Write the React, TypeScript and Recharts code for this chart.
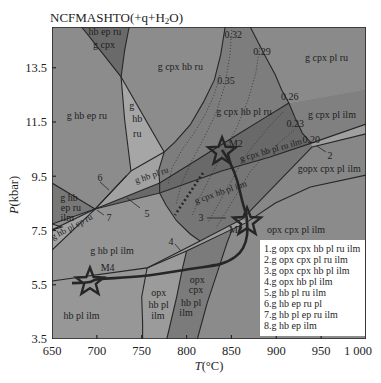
import React from "react";
import { ScatterChart, Scatter, XAxis, YAxis } from "recharts";

type Pt = [number, number]; // [T °C, P kbar]
type Note = { t: number; p: number; text: string };

const X_TICKS = [650, 700, 750, 800, 850, 900, 950, 1000];
const Y_TICKS = [3.5, 5.5, 7.5, 9.5, 11.5, 13.5];

// reaction lines
const lineA: Pt[] = [[683, 15], [703.5, 14.15], [727, 13.16]];
const lineB: Pt[] = [[736, 15], [731, 14.15], [727, 13.16]];
const lineC: Pt[] = [[727, 13.16], [731, 11.57], [738, 9.69]];
const lineD: Pt[] = [[727, 13.16], [775, 10.39]];
const lineE: Pt[] = [[738, 9.69], [775, 10.39]];
const cpxIn: Pt[] = [
  [843, 15], [838, 13.97], [831, 13.05], [819, 12.24], [804, 11.39], [787, 10.76],
  [775, 10.39], [769, 9.73], [770, 9.25], [770, 8.88], [777, 8.44], [789, 7.85],
  [804, 7.37], [815, 7.11],
];
const plIn: Pt[] = [[871, 15], [887, 13.97], [899, 13.23], [906, 12.68], [914, 12.2]];
const ilmIn: Pt[] = [[698, 8.29], [770, 9.25], [815, 10.17], [856, 11.02], [887, 11.65], [914, 12.2]];
const ruOut: Pt[] = [[698, 8.29], [770, 8.88], [839, 9.69], [893, 10.21], [939, 10.72]];
const hbIn: Pt[] = [[914, 12.2], [921, 11.65], [929, 11.09], [939, 10.72]];
const band2Top: Pt[] = [[939, 10.72], [1000, 11.42]];
const band2Bot: Pt[] = [[940, 10.58], [1000, 11.06]];
const hbOut: Pt[] = [[940, 10.58], [862, 7.92]];
const opxIn: Pt[] = [[756, 6.12], [800, 6.74], [851, 7.55], [866, 7.78], [899, 8.51], [938, 9.1], [1000, 9.54]];
const band34Top: Pt[] = [[756, 6.12], [815, 7.11], [862, 7.92]];
const steep1: Pt[] = [[751, 3.5], [751, 4.09], [750, 5.05], [756, 6.12]];
const steep2: Pt[] = [[778, 3.5], [789, 5.05], [795, 6.04], [800, 6.74]];
const steep3: Pt[] = [[812, 3.5], [823, 4.83], [834, 5.93], [845, 7.04], [851, 7.55]];
const gOut: Pt[] = [[650, 5.64], [756, 6.12]];
const kQ2: Pt[] = [[698, 8.29], [738, 9.69]];
const kSliver: Pt[] = [[698, 8.29], [733, 9.52]];
const kLeft1: Pt[] = [[650, 9.25], [698, 8.29]];
const kLeft2: Pt[] = [[650, 7.74], [698, 8.29]];
const kLeft3: Pt[] = [[650, 7.52], [698, 8.29]];
const kLeft4: Pt[] = [[650, 6.78], [698, 8.29]];
const tri8: Pt[] = [[650, 7.74], [661, 7.63], [650, 7.52]];

// fields
const gHbEpRu: Pt[] = [[650, 15], [683, 15], [703.5, 14.15], [727, 13.16], [731, 11.57], [738, 9.69], [698, 8.29], [650, 9.25]];
const hbEpRuGCpx: Pt[] = [[683, 15], [736, 15], [731, 14.15], [727, 13.16], [703.5, 14.15]];
const gHbRu: Pt[] = [[727, 13.16], [775, 10.39], [738, 9.69], [731, 11.57]];
const gCpxHbRu: Pt[] = [[736, 15], [843, 15], [838, 13.97], [831, 13.05], [819, 12.24], [804, 11.39], [787, 10.76], [775, 10.39], [727, 13.16], [731, 14.15]];
const gCpxHbPlRu: Pt[] = [
  [843, 15], [871, 15], [887, 13.97], [899, 13.23], [906, 12.68], [914, 12.2], [887, 11.65],
  [856, 11.02], [815, 10.17], [770, 9.25], [769, 9.73], [775, 10.39], [787, 10.76],
  [804, 11.39], [819, 12.24], [831, 13.05], [838, 13.97],
];
const gCpxPlRu: Pt[] = [[871, 15], [1000, 15], [1000, 12.71], [914, 12.2], [906, 12.68], [899, 13.23], [887, 13.97]];
const gCpxPlIlm: Pt[] = [[914, 12.2], [1000, 12.71], [1000, 11.42], [939, 10.72], [929, 11.09], [921, 11.65]];
const ruIlmBand: Pt[] = [
  [698, 8.29], [770, 9.25], [815, 10.17], [856, 11.02], [887, 11.65], [914, 12.2], [921, 11.65],
  [929, 11.09], [939, 10.72], [893, 10.21], [839, 9.69], [770, 8.88],
];
const gHbPlRu: Pt[] = [[698, 8.29], [738, 9.69], [775, 10.39], [769, 9.73], [770, 9.25]];
const band2: Pt[] = [[939, 10.72], [1000, 11.42], [1000, 11.06], [940, 10.58]];
const gOpxCpxPlIlm: Pt[] = [[940, 10.58], [1000, 11.06], [1000, 9.54], [938, 9.1], [899, 8.51], [866, 7.78], [862, 7.92]];
const gCpxHbPlIlm: Pt[] = [
  [770, 8.88], [839, 9.69], [893, 10.21], [939, 10.72], [940, 10.58], [862, 7.92], [815, 7.11],
  [804, 7.37], [789, 7.85], [777, 8.44],
];
const band34: Pt[] = [[756, 6.12], [815, 7.11], [862, 7.92], [866, 7.78], [851, 7.55], [800, 6.74]];
const gHbPlIlm: Pt[] = [[650, 6.78], [698, 8.29], [770, 8.88], [777, 8.44], [789, 7.85], [804, 7.37], [815, 7.11], [756, 6.12], [650, 5.64]];
const hbPlIlm: Pt[] = [[650, 5.64], [756, 6.12], [750, 5.05], [751, 4.09], [751, 3.5], [650, 3.5]];
const opxHbPlIlm: Pt[] = [[756, 6.12], [800, 6.74], [795, 6.04], [789, 5.05], [778, 3.5], [751, 3.5], [751, 4.09], [750, 5.05]];
const opxCpxHbPlIlm: Pt[] = [[800, 6.74], [851, 7.55], [845, 7.04], [834, 5.93], [823, 4.83], [812, 3.5], [778, 3.5], [789, 5.05], [795, 6.04]];
const opxCpxPlIlm: Pt[] = [[851, 7.55], [866, 7.78], [899, 8.51], [938, 9.1], [1000, 9.54], [1000, 3.5], [812, 3.5], [823, 4.83], [834, 5.93], [845, 7.04]];
const gHbEpRuIlm: Pt[] = [[650, 9.25], [698, 8.29], [650, 7.74]];
const gHbPlEpRuIlm: Pt[] = [[650, 7.74], [698, 8.29], [650, 7.52]];
const gHbPlEpRu: Pt[] = [[650, 7.52], [698, 8.29], [650, 6.78]];

// isopleths
const iso35: Pt[] = [[837.3, 13.23], [830.6, 12.49], [820.5, 11.76], [808.3, 11.09], [794.9, 10.47], [783.8, 9.8], [779.3, 9.18]];
const iso32: Pt[] = [[850.6, 15], [848.4, 13.97], [842.8, 12.86], [832.8, 11.83], [819.4, 10.91], [805, 10.02], [793.8, 9.18], [788.2, 8.44]];
const iso29: Pt[] = [[881.8, 14.34], [877.4, 13.34], [868.5, 12.31], [856.2, 11.31], [841.7, 10.39], [827.2, 9.54], [815, 8.73], [806, 8.03]];
const iso26: Pt[] = [[907.5, 11.87], [890.8, 11.28], [873, 10.58], [859.6, 9.91], [847.3, 9.18], [835, 8.44], [823.9, 7.81]];
const iso23: Pt[] = [[919.8, 11.2], [904.1, 10.76], [887.4, 10.28], [870.7, 9.66], [857.3, 8.92], [844, 8.18], [832.8, 7.59]];
const heavyDots: Pt[] = [[818.3, 9.62], [787.1, 8.07]];

// P-T path and stations
const ptPath: Pt[] = [
  [839.5, 10.47], [848.4, 9.99], [856.2, 9.36], [861.8, 8.62], [866.2, 8.11], [867.4, 7.81],
  [867.4, 7.33], [862.9, 6.85], [854, 6.52], [837.3, 6.26], [803.8, 6.08], [751.4, 5.82],
  [703.5, 5.71], [692.3, 5.6], [672.3, 5.56],
];
const stations: Pt[] = [[839.5, 10.4], [867.4, 7.81], [692.3, 5.6]];

const pointers: Pt[][] = [
  [[703.5, 9.29], [713.5, 8.99]],
  [[700.1, 8.25], [707.9, 8.07]],
  [[733.6, 8.7], [748.1, 8.33]],
  [[787.1, 7.0], [793.8, 6.74]],
  [[822.8, 7.96], [844, 7.96]],
  [[945.4, 10.61], [955.4, 10.39]],
];

const fieldNotes: Note[] = [
  { t: 709, p: 14.82, text: "hb ep ru" },
  { t: 708, p: 14.37, text: "g cpx" },
  { t: 689, p: 11.72, text: "g hb ep ru" },
  { t: 739, p: 12.09, text: "g" },
  { t: 745, p: 11.61, text: "hb" },
  { t: 745, p: 11.09, text: "ru" },
  { t: 793, p: 13.53, text: "g cpx hb ru" },
  { t: 956, p: 13.86, text: "g cpx pl ru" },
  { t: 962, p: 11.76, text: "g cpx pl ilm" },
  { t: 959, p: 9.8, text: "gopx cpx pl ilm" },
  { t: 922, p: 7.52, text: "opx cpx pl ilm" },
  { t: 864, p: 11.87, text: "g cpx hb pl ru" },
  { t: 669, p: 8.7, text: "g hb" },
  { t: 671, p: 8.33, text: "ep ru" },
  { t: 667, p: 7.98, text: "ilm" },
  { t: 717, p: 6.78, text: "g hb pl ilm" },
  { t: 683, p: 4.38, text: "hb pl ilm" },
  { t: 769, p: 5.23, text: "opx" },
  { t: 769, p: 4.79, text: "hb pl" },
  { t: 768, p: 4.35, text: "ilm" },
  { t: 812, p: 5.71, text: "opx" },
  { t: 810.5, p: 5.31, text: "cpx" },
  { t: 805, p: 4.86, text: "hb pl" },
  { t: 799.4, p: 4.46, text: "ilm" },
  { t: 712, p: 6.12, text: "M4" },
  { t: 855, p: 7.55, text: "M3" },
  { t: 855, p: 10.72, text: "M2" },
  { t: 852, p: 14.71, text: "0.32" },
  { t: 884, p: 14.08, text: "0.29" },
  { t: 844, p: 13.01, text: "0.35" },
  { t: 915, p: 12.42, text: "0.26" },
  { t: 921, p: 11.46, text: "0.23" },
  { t: 939, p: 10.87, text: "0.20" },
  { t: 703.5, p: 9.47, text: "6" },
  { t: 713.5, p: 7.96, text: "7" },
  { t: 755.9, p: 8.11, text: "5" },
  { t: 782.6, p: 7.11, text: "4" },
  { t: 816.1, p: 7.96, text: "3" },
  { t: 959.9, p: 10.25, text: "2" },
];

const bandNotes: Note[] = [
  { t: 894, p: 10.47, text: "g cpx hb pl ru ilm" },
  { t: 838, p: 8.92, text: "g cpx hb pl ilm" },
  { t: 761, p: 9.54, text: "g hb pl ru" },
  { t: 672, p: 7.64, text: "g hb pl ep ru" },
];
const BAND_ANGLE: Record<string, number> = {
  "g cpx hb pl ru ilm": -16,
  "g cpx hb pl ilm": -19,
  "g hb pl ru": -19,
  "g hb pl ep ru": -28,
};

const LEGEND = [
  "1.g opx cpx hb pl ru ilm",
  "2.g opx cpx pl ru ilm",
  "3.g opx cpx hb pl ilm",
  "4.g opx hb pl ilm",
  "5.g hb pl ru ilm",
  "6.g hb ep ru pl",
  "7.g hb pl ep ru ilm",
  "8.g hb ep ilm",
];

const FIELDS: { pts: Pt[]; fill: string }[] = [
  { pts: gHbEpRu, fill: "#8c8c8c" },
  { pts: hbEpRuGCpx, fill: "#6a6a6a" },
  { pts: gHbRu, fill: "#a6a6a6" },
  { pts: gCpxHbRu, fill: "#8c8c8c" },
  { pts: gCpxHbPlRu, fill: "#7d7d7d" },
  { pts: gCpxPlRu, fill: "#8a8a8a" },
  { pts: gCpxPlIlm, fill: "#808080" },
  { pts: ruIlmBand, fill: "#696969" },
  { pts: gHbPlRu, fill: "#a2a2a2" },
  { pts: band2, fill: "#a0a0a0" },
  { pts: gOpxCpxPlIlm, fill: "#878787" },
  { pts: gCpxHbPlIlm, fill: "#767676" },
  { pts: band34, fill: "#9e9e9e" },
  { pts: gHbPlIlm, fill: "#959595" },
  { pts: hbPlIlm, fill: "#979797" },
  { pts: opxHbPlIlm, fill: "#9b9b9b" },
  { pts: opxCpxHbPlIlm, fill: "#7b7b7b" },
  { pts: opxCpxPlIlm, fill: "#8b8b8b" },
  { pts: gHbEpRuIlm, fill: "#787878" },
  { pts: gHbPlEpRuIlm, fill: "#8e8e8e" },
  { pts: gHbPlEpRu, fill: "#a3a3a3" },
  { pts: tri8, fill: "#a8a8a8" },
];

const BOUNDS: Pt[][] = [
  lineA, lineB, lineC, lineD, lineE, cpxIn, plIn, ilmIn, ruOut, hbIn, band2Top, band2Bot,
  hbOut, opxIn, band34Top, steep1, steep2, steep3, gOut, kQ2, kSliver, kLeft1, kLeft2,
  kLeft3, kLeft4, tri8,
];
const ISOS: Pt[][] = [iso35, iso32, iso29, iso26, iso23];
const FRAME: Pt[] = [[650, 3.5], [1000, 3.5], [1000, 15], [650, 15], [650, 3.5]];

const FONT = '"Liberation Serif", "Times New Roman", serif';
const INK = "#262626";

const toData = (arr: Pt[]) => arr.map(([t, p]) => ({ t, p }));
const noDot = () => <g />;

const noteShape = (size: number) => (props: any) => {
  const { cx, cy, payload } = props;
  const angle = BAND_ANGLE[payload.text] ?? 0;
  return (
    <text
      x={cx}
      y={cy}
      textAnchor="middle"
      dominantBaseline="central"
      fontSize={size}
      fontFamily={FONT}
      fill="#1e1e1e"
      transform={angle ? `rotate(${angle} ${cx} ${cy})` : undefined}
    >
      {payload.text}
    </text>
  );
};

const starShape = (props: any) => {
  const { cx, cy } = props;
  const pts: string[] = [];
  for (let i = 0; i < 10; i++) {
    const r = i % 2 === 0 ? 14.5 : 6.2;
    const a = ((-90 + i * 36) * Math.PI) / 180;
    pts.push(`${cx + r * Math.cos(a)},${cy + r * Math.sin(a)}`);
  }
  return <polygon points={pts.join(" ")} fill="none" stroke={INK} strokeWidth={2.4} />;
};

const xTickMark = (props: any) => {
  const { cx, cy } = props;
  return <line x1={cx} x2={cx} y1={cy} y2={cy - 4} stroke={INK} strokeWidth={1.2} />;
};
const yTickMark = (props: any) => {
  const { cx, cy } = props;
  return <line x1={cx} x2={cx + 4} y1={cy} y2={cy} stroke={INK} strokeWidth={1.2} />;
};

// last label sits left of its tick so "1 000" stays on the page
const XTick = (props: any) => {
  const { x, y, payload } = props;
  const v = payload.value;
  const label = v === 1000 ? "1 000" : String(v);
  return (
    <text
      x={v === 1000 ? x - 7 : x}
      y={y}
      dy="0.71em"
      textAnchor="middle"
      fontSize={12.5}
      fontFamily={FONT}
      fill="#1e1e1e"
    >
      {label}
    </text>
  );
};

export default function App() {
  return (
    <div style={{ position: "relative", width: 373, height: 375, fontFamily: FONT }}>
      <ScatterChart width={373} height={375} margin={{ top: 19, right: 15, bottom: 14, left: 0 }}>
        <XAxis
          type="number"
          dataKey="t"
          domain={[650, 1000]}
          ticks={X_TICKS}
          allowDataOverflow
          axisLine={false}
          tickLine={false}
          tickSize={0}
          tickMargin={7}
          height={30}
          tick={<XTick />}
        />
        <YAxis
          type="number"
          dataKey="p"
          domain={[3.5, 15]}
          ticks={Y_TICKS}
          allowDataOverflow
          axisLine={false}
          tickLine={false}
          tickSize={0}
          tickMargin={5}
          width={44}
          tick={{ fontSize: 12.5, fontFamily: FONT, fill: "#1e1e1e" }}
        />
        {FIELDS.map((f, i) => (
          <Scatter
            key={`field-${i}`}
            data={toData(f.pts)}
            line={{ fill: f.fill, stroke: f.fill, strokeWidth: 0.5 }}
            lineType="joint"
            shape={noDot}
            isAnimationActive={false}
          />
        ))}
        {ISOS.map((l, i) => (
          <Scatter
            key={`iso-${i}`}
            data={toData(l)}
            line={{ stroke: "#2e2e2e", strokeWidth: 0.8, strokeDasharray: "1 2", fill: "none" }}
            lineType="joint"
            shape={noDot}
            isAnimationActive={false}
          />
        ))}
        {BOUNDS.map((l, i) => (
          <Scatter
            key={`bound-${i}`}
            data={toData(l)}
            line={{ stroke: INK, strokeWidth: 1.1, fill: "none" }}
            lineType="joint"
            shape={noDot}
            isAnimationActive={false}
          />
        ))}
        {pointers.map((l, i) => (
          <Scatter
            key={`ptr-${i}`}
            data={toData(l)}
            line={{ stroke: INK, strokeWidth: 0.8, fill: "none" }}
            lineType="joint"
            shape={noDot}
            isAnimationActive={false}
          />
        ))}
        <Scatter
          data={toData(heavyDots)}
          line={{ stroke: INK, strokeWidth: 2.6, strokeDasharray: "2 2.5", fill: "none" }}
          lineType="joint"
          shape={noDot}
          isAnimationActive={false}
        />
        <Scatter
          data={toData(FRAME)}
          line={{ stroke: INK, strokeWidth: 1.6, fill: "none" }}
          lineType="joint"
          shape={noDot}
          isAnimationActive={false}
        />
        <Scatter
          data={X_TICKS.slice(1, -1).map((t) => ({ t, p: 3.5 }))}
          shape={xTickMark}
          isAnimationActive={false}
        />
        <Scatter
          data={Y_TICKS.slice(1).map((p) => ({ t: 650, p }))}
          shape={yTickMark}
          isAnimationActive={false}
        />
        <Scatter
          data={toData(ptPath)}
          line={{ stroke: INK, strokeWidth: 2.6, fill: "none", strokeLinejoin: "round" }}
          lineType="joint"
          lineJointType="natural"
          shape={noDot}
          isAnimationActive={false}
        />
        <Scatter data={toData(stations)} shape={starShape} isAnimationActive={false} />
        <Scatter data={fieldNotes} shape={noteShape(10)} isAnimationActive={false} />
        <Scatter data={bandNotes} shape={noteShape(9)} isAnimationActive={false} />
      </ScatterChart>

      <div style={{ position: "absolute", left: 42, top: 2, fontSize: 13, lineHeight: "15px", color: "#1e1e1e", whiteSpace: "nowrap" }}>
        NCFMASHTO(+q+H<span style={{ fontSize: 9, verticalAlign: "-2px" }}>2</span>O)
      </div>

      <div
        style={{
          position: "absolute",
          left: 6,
          top: 187,
          transform: "translate(-50%, -50%) rotate(-90deg)",
          fontSize: 12.5,
          lineHeight: 1,
          color: "#1e1e1e",
          whiteSpace: "nowrap",
        }}
      >
        <i>P</i>(kbar)
      </div>
      <div
        style={{
          position: "absolute",
          left: 201,
          top: 358,
          transform: "translate(-50%, -50%)",
          fontSize: 12.5,
          lineHeight: 1,
          color: "#1e1e1e",
          whiteSpace: "nowrap",
        }}
      >
        <i>T</i>(°C)
      </div>

      <div
        style={{
          position: "absolute",
          left: 252,
          top: 232,
          width: 105,
          height: 96,
          background: "#ffffff",
          boxSizing: "border-box",
          padding: "3px 0 0 4px",
          fontSize: 10,
          lineHeight: "11px",
          color: "#1e1e1e",
          whiteSpace: "nowrap",
        }}
      >
        {LEGEND.map((s) => (
          <div key={s}>{s}</div>
        ))}
      </div>
    </div>
  );
}
